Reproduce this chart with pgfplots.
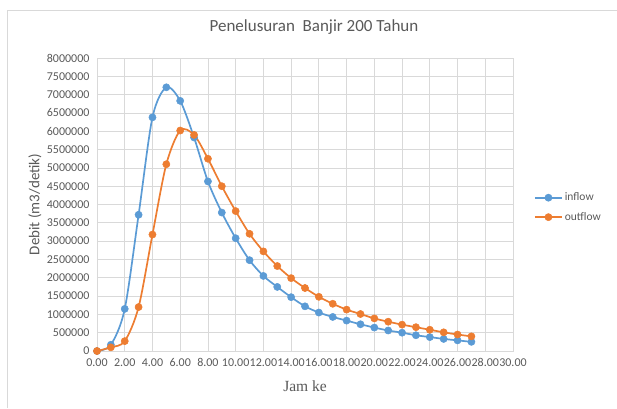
\documentclass[border=0pt]{standalone}
\usepackage{fontspec}
\setmainfont{Carlito}
\newfontfamily\serifjam{Liberation Serif}
\usepackage{pgfplots}
\pgfplotsset{compat=1.18}
\usepackage{pgfplotstable}

\definecolor{inblue}{HTML}{5B9BD5}
\definecolor{outorange}{HTML}{ED7D31}
\definecolor{gridgray}{HTML}{D9D9D9}
\definecolor{txtgray}{HTML}{595959}

% jam, inflow, outflow (m3/detik)
\pgfplotstableread{
jam inflow  outflow
0   0       0
1   170000  100000
2   1150000 270000
3   3720000 1200000
4   6380000 3180000
5   7200000 5100000
6   6830000 6020000
7   5830000 5900000
8   4630000 5250000
9   3780000 4500000
10  3080000 3820000
11  2480000 3200000
12  2050000 2720000
13  1750000 2320000
14  1470000 1990000
15  1220000 1720000
16  1050000 1480000
17  930000  1290000
18  830000  1130000
19  730000  1010000
20  640000  890000
21  560000  800000
22  500000  720000
23  430000  650000
24  380000  580000
25  330000  510000
26  290000  450000
27  250000  400000
}\banjir

\begin{document}
\begin{tikzpicture}
\begin{axis}[
  name=ax,
  scale only axis, width=416pt, height=293pt,
  xmin=0, xmax=30, ymin=0, ymax=8000000,
  xtick={0,2,...,30},
  ytick={0,500000,...,8000000},
  scaled y ticks=false,
  grid=major,
  major grid style={gridgray,line width=0.75pt},
  axis line style={gridgray,line width=0.75pt},
  major tick length=0pt,
  tick style={draw=none},
  /pgf/number format/assume math mode=true,
  tick label style={font=\fontsize{12}{12}\selectfont, text=txtgray},
  xticklabel style={yshift=-4pt, /pgf/number format/.cd, fixed, fixed zerofill, precision=2},
  yticklabel style={xshift=-4pt, /pgf/number format/.cd, fixed, precision=0, 1000 sep={}},
  title={Penelusuran\ \ Banjir 200 Tahun},
  title style={at={(axis description cs:0.5,1)}, anchor=center, yshift=25pt, xshift=9pt,
    font=\fontsize{17}{17}\selectfont, text=txtgray},
  xlabel={Jam ke},
  xlabel style={at={(axis description cs:0.5,0)}, anchor=center, yshift=-35pt,
    font=\serifjam\fontsize{15.5}{15.5}\selectfont, text=txtgray},
  ylabel={Debit (m3/detik)},
  ylabel style={at={(axis description cs:0,0.5)}, anchor=center, yshift=62pt,
    font=\fontsize{15}{15}\selectfont, text=txtgray},
  legend style={at={(axis description cs:1.043,0.49)}, anchor=west, draw=none, fill=none,
    font=\fontsize{11.5}{11.5}\selectfont, text=txtgray, row sep=6pt},
  legend cell align=left,
  legend image code/.code={\draw[mark repeat=2,mark phase=2] plot coordinates {(0pt,0pt)(13.5pt,0pt)(27pt,0pt)};},
  every axis plot/.append style={smooth, tension=0.5, line width=1.7pt, mark=*, mark size=3.6pt},
]
\addplot[inblue, mark options={fill=inblue, draw=inblue, line width=0.5pt}] table[x=jam, y=inflow] {\banjir};
\addlegendentry{inflow}
\addplot[outorange, mark options={fill=outorange, draw=outorange, line width=0.5pt}] table[x=jam, y=outflow] {\banjir};
\addlegendentry{outflow}
\end{axis}
\coordinate (o) at ([shift={(-97pt,-57pt)}]ax.south west);
\draw[gridgray,line width=0.8pt] ([shift={(7.5pt,0pt)}]o) -- ([shift={(7.5pt,397.5pt)}]o) -- ([shift={(617pt,397.5pt)}]o);
\pgfresetboundingbox
\path[use as bounding box] (o) rectangle ([shift={(617pt,408pt)}]o);
\end{tikzpicture}
\end{document}
